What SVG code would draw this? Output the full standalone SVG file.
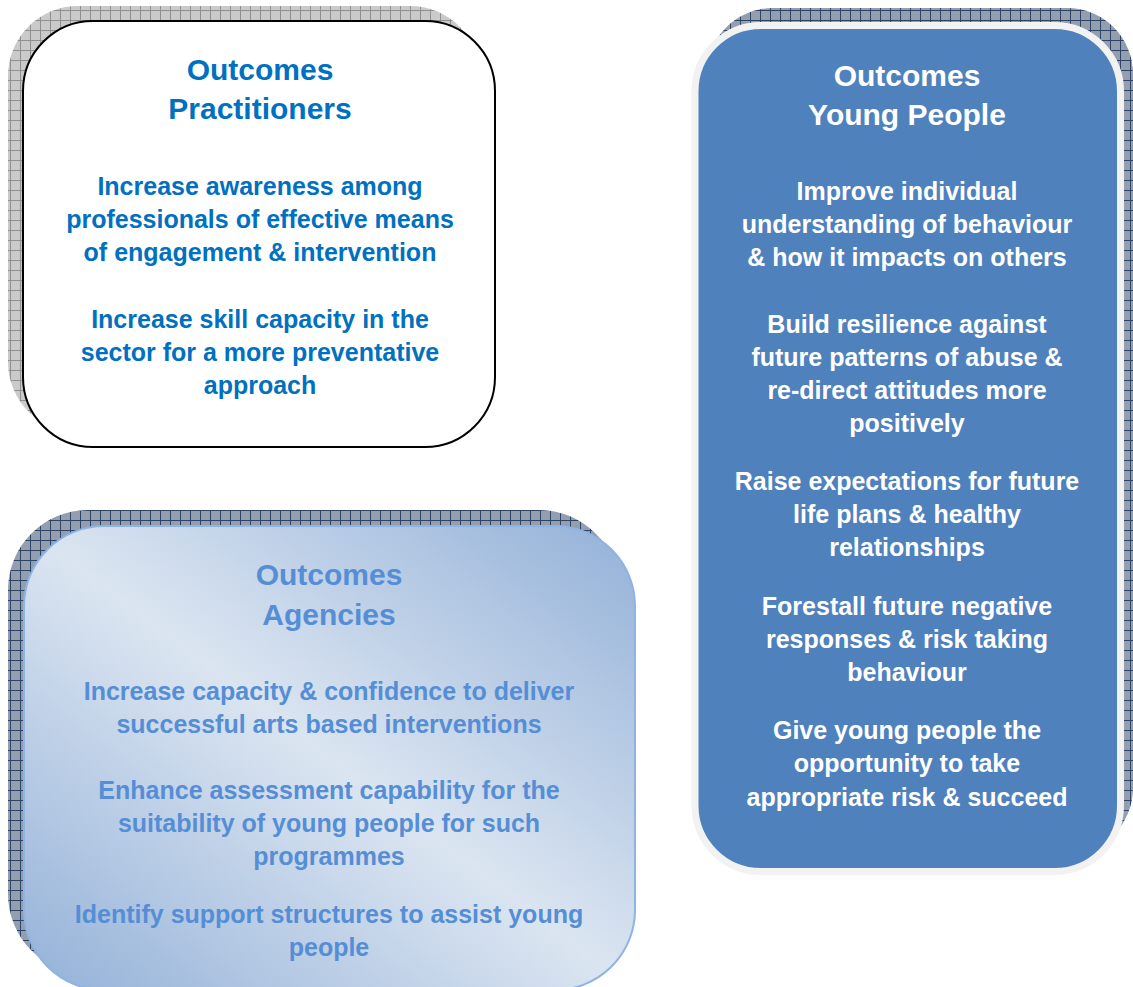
<svg xmlns="http://www.w3.org/2000/svg" width="1133" height="987" viewBox="0 0 1133 987">
<style>
text{font-family:"Liberation Sans",Arial,sans-serif;font-weight:bold;text-anchor:middle}
.t{font-size:30px}
.b{font-size:25px}
.c1{fill:#0070c0}
.c2{fill:#ffffff}
.c3{fill:#558ed5}
</style>
<defs>
<pattern id="hatchGrey" width="10" height="10" patternUnits="userSpaceOnUse">
<rect width="10" height="10" fill="#cacaca"/>
<path d="M0.5 0V10M0 0.5H10" stroke="#909090" stroke-width="1"/>
</pattern>
<pattern id="hatchBlue" width="10" height="10" patternUnits="userSpaceOnUse">
<rect width="10" height="10" fill="#939eae"/>
<path d="M0.5 0V10M0 0.5H10" stroke="#2e4466" stroke-width="1"/>
</pattern>
<linearGradient id="agencyGrad" x1="1" y1="0" x2="0" y2="1">
<stop offset="0" stop-color="#93b1d8"/>
<stop offset="0.5" stop-color="#dbe5f1"/>
<stop offset="1" stop-color="#93b1d8"/>
</linearGradient>
</defs>

<g id="practitioners">
<rect x="8" y="6" width="472" height="426" rx="70" fill="url(#hatchGrey)"/>
<rect x="23" y="21" width="472" height="426" rx="70" fill="#ffffff" stroke="#000000" stroke-width="2"/>
<text class="t c1" x="260" y="80">Outcomes</text>
<text class="t c1" x="260" y="119">Practitioners</text>
<text class="b c1" x="260" y="195">Increase awareness among</text>
<text class="b c1" x="260" y="228">professionals of effective means</text>
<text class="b c1" x="260" y="261">of engagement &amp; intervention</text>
<text class="b c1" x="260" y="328">Increase skill capacity in the</text>
<text class="b c1" x="260" y="361">sector for a more preventative</text>
<text class="b c1" x="260" y="394">approach</text>
</g>

<g id="young-people">
<rect x="707" y="8" width="426" height="846" rx="66" fill="url(#hatchBlue)"/>
<rect x="695" y="25.5" width="425.5" height="846" rx="66" fill="#4f81bd" stroke="#f2f2f2" stroke-width="7"/>
<text class="t c2" x="907" y="86">Outcomes</text>
<text class="t c2" x="907" y="125">Young People</text>
<text class="b c2" x="907" y="200">Improve individual</text>
<text class="b c2" x="907" y="233">understanding of behaviour</text>
<text class="b c2" x="907" y="266">&amp; how it impacts on others</text>
<text class="b c2" x="907" y="333">Build resilience against</text>
<text class="b c2" x="907" y="366">future patterns of abuse &amp;</text>
<text class="b c2" x="907" y="399">re-direct attitudes more</text>
<text class="b c2" x="907" y="432">positively</text>
<text class="b c2" x="907" y="490">Raise expectations for future</text>
<text class="b c2" x="907" y="523">life plans &amp; healthy</text>
<text class="b c2" x="907" y="556">relationships</text>
<text class="b c2" x="907" y="615">Forestall future negative</text>
<text class="b c2" x="907" y="648">responses &amp; risk taking</text>
<text class="b c2" x="907" y="681">behaviour</text>
<text class="b c2" x="907" y="739">Give young people the</text>
<text class="b c2" x="907" y="772">opportunity to take</text>
<text class="b c2" x="907" y="806">appropriate risk &amp; succeed</text>
</g>

<g id="agencies">
<rect x="8" y="510" width="611" height="464" rx="80" fill="url(#hatchBlue)"/>
<rect x="24" y="526" width="611" height="464" rx="80" fill="url(#agencyGrad)" stroke="#8eb4e3" stroke-width="2"/>
<text class="t c3" x="329" y="585">Outcomes</text>
<text class="t c3" x="329" y="625">Agencies</text>
<text class="b c3" x="329" y="700">Increase capacity &amp; confidence to deliver</text>
<text class="b c3" x="329" y="733">successful arts based interventions</text>
<text class="b c3" x="329" y="799">Enhance assessment capability for the</text>
<text class="b c3" x="329" y="832">suitability of young people for such</text>
<text class="b c3" x="329" y="865">programmes</text>
<text class="b c3" x="329" y="923">Identify support structures to assist young</text>
<text class="b c3" x="329" y="956">people</text>
</g>

<g id="connectors"></g>
</svg>
